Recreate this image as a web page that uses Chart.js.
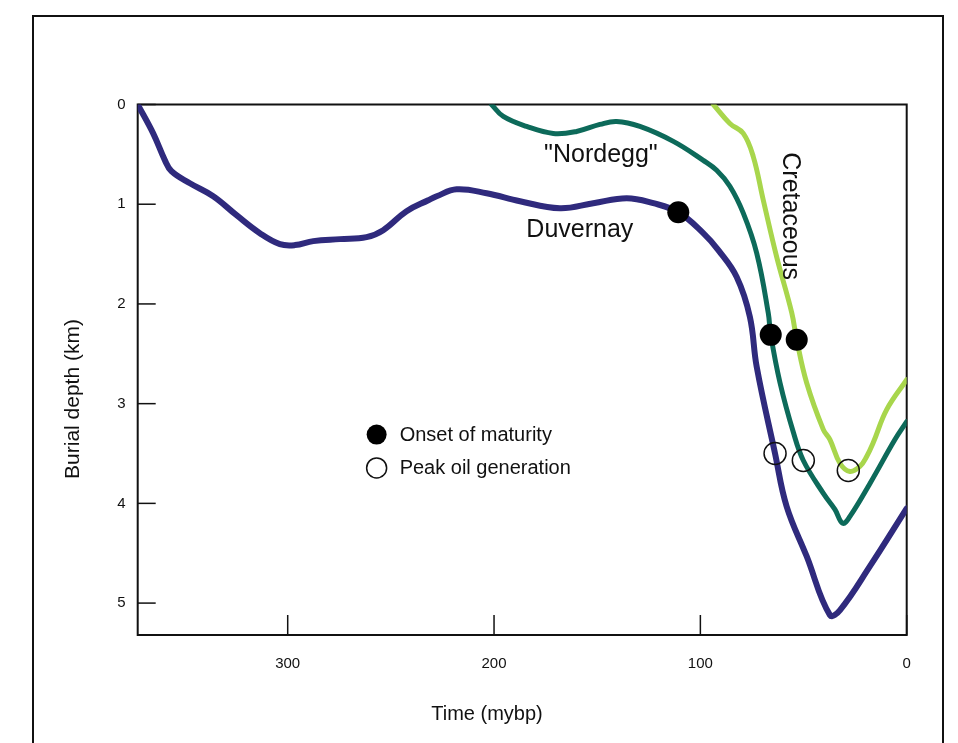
<!DOCTYPE html>
<html>
<head>
<meta charset="utf-8">
<title>Burial history</title>
<script src="https://cdn.jsdelivr.net/npm/chart.js@4/dist/chart.umd.min.js"></script>
<style>
  html, body { margin: 0; padding: 0; background: #fff; }
  #wrap { width: 958px; height: 743px; }
</style>
</head>
<body>
<div id="wrap"><canvas id="burialChart" width="958" height="743"></canvas></div>
<script>
// age in my before present, depth in km
const duvernayAge   = [372.7, 365.2, 359.5, 356.3, 347.4, 336.1, 324.8, 313.5, 303.8, 296.5, 287.6, 274.7, 261.8, 253.7, 242.4, 231.9, 227.8, 218.1, 203.6, 187.4, 168.1, 151.9, 135.7, 122.8, 110.7, 98.6, 91.3, 82.4, 76.0, 72.7, 63.8, 58.2, 48.5, 37.2, 32.3, 17.8, 0];
const duvernayDepth = [0, 0.29, 0.56, 0.67, 0.79, 0.92, 1.11, 1.29, 1.40, 1.41, 1.37, 1.35, 1.33, 1.26, 1.07, 0.96, 0.92, 0.85, 0.89, 0.97, 1.04, 0.99, 0.94, 0.99, 1.08, 1.29, 1.46, 1.73, 2.13, 2.63, 3.50, 4.03, 4.53, 5.12, 5.07, 4.63, 4.05];

const nordeggAge   = [201.2, 195.5, 184.2, 171.3, 160.0, 148.7, 140.6, 129.3, 113.1, 98.6, 92.1, 85.7, 79.2, 72.7, 67.1, 65.9, 61.4, 54.9, 50.1, 40.4, 34.8, 31.0, 27.5, 17.8, 5.7, 0];
const nordeggDepth = [0, 0.12, 0.22, 0.29, 0.27, 0.20, 0.17, 0.22, 0.37, 0.56, 0.66, 0.82, 1.09, 1.49, 2.09, 2.31, 2.79, 3.29, 3.57, 3.90, 4.06, 4.20, 4.13, 3.80, 3.36, 3.18];

const cretaceousAge   = [93.7, 85.7, 79.2, 74.4, 69.5, 63.0, 55.7, 53.3, 48.5, 40.4, 37.2, 32.3, 27.5, 22.7, 19.4, 16.2, 9.7, 0];
const cretaceousDepth = [0, 0.19, 0.29, 0.52, 0.96, 1.53, 2.09, 2.36, 2.79, 3.26, 3.36, 3.60, 3.68, 3.63, 3.53, 3.39, 3.06, 2.76];

// Duvernay, "Nordegg", Cretaceous
const onsetAge   = [110.7, 65.9, 53.3];
const onsetDepth = [1.08, 2.31, 2.36];
const peakAge    = [63.8, 50.1, 28.3];
const peakDepth  = [3.50, 3.57, 3.67];

const timeTicks  = [300, 200, 100, 0];
const depthTicks = [0, 1, 2, 3, 4, 5];

const FONT = '"Liberation Sans", Arial, Helvetica, sans-serif';
const INK = '#111';

function pts(xs, ys) {
  return xs.map((x, i) => ({ x: x, y: ys[i] }));
}

function curve(label, xs, ys, color, width) {
  return {
    label: label,
    data: pts(xs, ys),
    borderColor: color,
    borderWidth: width,
    pointRadius: 0,
    fill: false,
    tension: 0.4,
    borderCapStyle: 'round',
    borderJoinStyle: 'round',
    order: 1
  };
}

// frame, inward ticks, curve names, legend and axis titles
const annotate = {
  id: 'annotate',
  beforeDatasetsDraw(chart) {
    const c = chart.ctx;
    const a = chart.chartArea;
    c.save();
    c.strokeStyle = INK;
    c.lineWidth = 2;
    c.strokeRect(33, 16, 910, 800);
    c.strokeRect(a.left, a.top, a.right - a.left, a.bottom - a.top);

    c.lineWidth = 1.5;
    const xs = chart.scales.x, ys = chart.scales.y;
    xs.ticks.forEach(t => {
      const px = xs.getPixelForValue(t.value);
      c.beginPath(); c.moveTo(px, a.bottom); c.lineTo(px, a.bottom - 20); c.stroke();
    });
    ys.ticks.forEach(t => {
      const py = ys.getPixelForValue(t.value);
      c.beginPath(); c.moveTo(a.left, py); c.lineTo(a.left + 18, py); c.stroke();
    });
    c.restore();
  },
  afterDraw(chart) {
    const c = chart.ctx;
    const xs = chart.scales.x, ys = chart.scales.y;
    const at = (x, y) => [xs.getPixelForValue(x), ys.getPixelForValue(y)];
    c.save();
    c.fillStyle = INK;
    c.textAlign = 'center';
    c.textBaseline = 'middle';

    c.font = '25px ' + FONT;
    let p = at(158.4, 1.26);
    c.fillText('Duvernay', p[0], p[1]);
    p = at(148.2, 0.51);
    c.fillText('"Nordegg"', p[0], p[1]);
    p = at(56.5, 1.12);
    c.save();
    c.translate(p[0], p[1]);
    c.rotate(Math.PI / 2);
    c.fillText('Cretaceous', 0, 0);
    c.restore();

    // legend
    c.font = '20px ' + FONT;
    c.textAlign = 'left';
    const items = [
      { text: 'Onset of maturity', y: 3.31, filled: true },
      { text: 'Peak oil generation', y: 3.645, filled: false }
    ];
    items.forEach(it => {
      const q = at(256.9, it.y);
      c.beginPath();
      c.arc(q[0], q[1], 10, 0, Math.PI * 2);
      if (it.filled) { c.fillStyle = '#000'; c.fill(); }
      else { c.strokeStyle = INK; c.lineWidth = 1.5; c.stroke(); }
      c.fillStyle = INK;
      c.fillText(it.text, q[0] + 23, q[1] + 1);
    });

    // axis titles
    c.textAlign = 'center';
    c.font = '20px ' + FONT;
    c.fillText('Time (mybp)', 487, 714);
    c.save();
    c.translate(73, 399);
    c.rotate(-Math.PI / 2);
    c.font = '21px ' + FONT;
    c.fillText('Burial depth (km)', 0, 0);
    c.restore();
    c.restore();
  }
};

const ctx = document.getElementById('burialChart').getContext('2d');
new Chart(ctx, {
  type: 'line',
  data: {
    datasets: [
      {
        type: 'scatter',
        label: 'Onset of maturity',
        data: pts(onsetAge, onsetDepth),
        pointRadius: 11,
        pointBackgroundColor: '#000',
        pointBorderColor: '#000',
        pointBorderWidth: 0,
        order: 0
      },
      {
        type: 'scatter',
        label: 'Peak oil generation',
        data: pts(peakAge, peakDepth),
        pointRadius: 11,
        pointBackgroundColor: 'rgba(0,0,0,0)',
        pointBorderColor: INK,
        pointBorderWidth: 1.5,
        order: 0
      },
      curve('Duvernay', duvernayAge, duvernayDepth, '#2f2a7d', 6),
      curve('"Nordegg"', nordeggAge, nordeggDepth, '#0d6a5a', 5),
      curve('Cretaceous', cretaceousAge, cretaceousDepth, '#a8d64c', 5)
    ]
  },
  options: {
    responsive: false,
    animation: false,
    layout: { padding: { top: 104.5, right: 51.3, bottom: 0, left: 0 } },
    plugins: {
      legend: { display: false },
      tooltip: { enabled: false }
    },
    scales: {
      x: {
        type: 'linear',
        reverse: true,
        min: 0,
        max: 372.7,
        afterBuildTicks: s => { s.ticks = timeTicks.map(v => ({ value: v })); },
        afterFit: s => { s.height = 108; },
        grid: { display: false, drawTicks: false },
        border: { display: false },
        ticks: { padding: 20, color: INK, maxRotation: 0, font: { family: FONT, size: 15 } }
      },
      y: {
        type: 'linear',
        reverse: true,
        min: 0,
        max: 5.32,
        afterBuildTicks: s => { s.ticks = depthTicks.map(v => ({ value: v })); },
        afterFit: s => { s.width = 137.7; },
        grid: { display: false, drawTicks: false },
        border: { display: false },
        ticks: { padding: 12, color: INK, font: { family: FONT, size: 15 } }
      }
    }
  },
  plugins: [annotate]
});
</script>
</body>
</html>
